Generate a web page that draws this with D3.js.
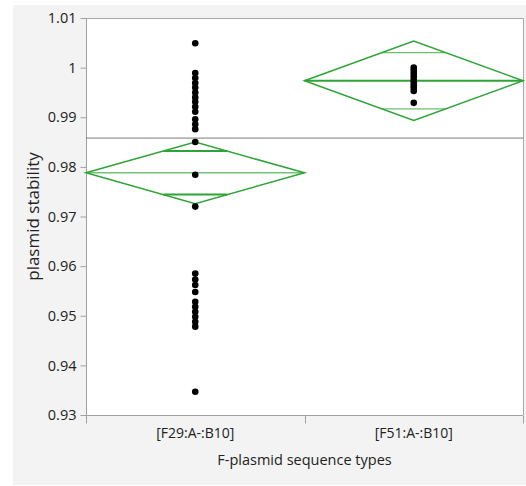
<!DOCTYPE html>
<html>
<head>
<meta charset="utf-8">
<script src="https://cdn.jsdelivr.net/npm/d3@7"></script>
<style>
  html, body { margin: 0; padding: 0; background: #ffffff; }
  svg { display: block; }
  text { font-family: "Open Sans", "Noto Sans", sans-serif; fill: #222; }
</style>
</head>
<body>
<svg id="chart" width="526" height="486"></svg>
<script>
// Sequence types on the x axis
const categories = ["[F29:A-:B10]", "[F51:A-:B10]"];

// Plasmid stability per isolate, F29:A-:B10
const f29Values = [
  1.0049,
  0.9989, 0.9979, 0.9969, 0.9960, 0.9950, 0.9940, 0.9931, 0.9921, 0.9911,
  0.9896, 0.9886, 0.9876,
  0.9850, 0.9784, 0.9720,
  0.9585, 0.9573, 0.9562, 0.9548, 0.9528, 0.9518, 0.9508, 0.9498, 0.9488, 0.9478,
  0.9347
];

// Plasmid stability per isolate, F51:A-:B10
const f51Values = [
  1.0000, 0.9994, 0.9988, 0.9982, 0.9976, 0.9970, 0.9964, 0.9959, 0.9953, 0.9929
];

// Group means and 95% confidence half-widths (mean diamonds)
const groupMeans = [0.9788, 0.99736];
const groupCIHalf = [0.0062, 0.0080];

// Overall mean reference line
const grandMean = 0.9858;

// Y axis ticks
const yTickValues = [0.93, 0.94, 0.95, 0.96, 0.97, 0.98, 0.99, 1.00, 1.01];
const yTickLabels = ["0.93", "0.94", "0.95", "0.96", "0.97", "0.98", "0.99", "1", "1.01"];

const axisTitleX = "F-plasmid sequence types";
const axisTitleY = "plasmid stability";

const groups = [f29Values, f51Values];

const svg = d3.select("#chart");
const plot = { left: 86, right: 523, top: 18, bottom: 415 };

// Panel background
svg.append("rect")
  .attr("x", 13).attr("y", 5)
  .attr("width", 513).attr("height", 480)
  .attr("fill", "#f3f3f3");

svg.append("rect")
  .attr("x", plot.left).attr("y", plot.top)
  .attr("width", plot.right - plot.left).attr("height", plot.bottom - plot.top)
  .attr("fill", "#ffffff");

const y = d3.scaleLinear().domain([0.93, 1.01]).range([plot.bottom, plot.top]);
const x = d3.scaleBand().domain(categories).range([plot.left, plot.right]).padding(0);

// Frame top and right
svg.append("path")
  .attr("d", `M${plot.left},${plot.top + 0.5}H${plot.right + 0.5}V${plot.bottom}`)
  .attr("fill", "none").attr("stroke", "#a8a8a8").attr("stroke-width", 1);

// Y axis
const yAxis = d3.axisLeft(y)
  .tickValues(yTickValues)
  .tickFormat((d, i) => yTickLabels[i])
  .tickSizeInner(6).tickSizeOuter(0).tickPadding(4);

const gy = svg.append("g")
  .attr("transform", `translate(${plot.left + 0.5},0)`)
  .call(yAxis);
gy.select(".domain").attr("stroke", "#a0a0a0")
  .attr("d", `M0,${plot.top}V${plot.bottom + 8}`);
gy.selectAll(".tick line").attr("stroke", "#a0a0a0");
gy.selectAll(".tick text")
  .style("font-family", "'Open Sans', sans-serif")
  .style("font-size", "14.5px").attr("fill", "#222");

// X axis: ticks at the category boundaries, labels at band centres
const gx = svg.append("g").attr("transform", `translate(0,${plot.bottom + 0.5})`);
gx.append("line")
  .attr("x1", plot.left).attr("x2", plot.right)
  .attr("stroke", "#a0a0a0");
const boundaries = categories.map(c => x(c)).concat([x(categories[categories.length - 1]) + x.bandwidth()]);
gx.selectAll("line.bound").data(boundaries).join("line")
  .attr("class", "bound")
  .attr("x1", d => Math.round(d) + 0.5).attr("x2", d => Math.round(d) + 0.5)
  .attr("y1", 0).attr("y2", 8)
  .attr("stroke", "#a0a0a0");
gx.selectAll("text").data(categories).join("text")
  .attr("x", d => x(d) + x.bandwidth() / 2)
  .attr("y", 22)
  .attr("text-anchor", "middle")
  .style("font-size", "14px")
  .text(d => d);

// Axis titles
svg.append("text")
  .attr("x", (plot.left + plot.right) / 2)
  .attr("y", 465)
  .attr("text-anchor", "middle")
  .style("font-size", "14.5px")
  .text(axisTitleX);

svg.append("text")
  .attr("transform", `translate(39,${(plot.top + plot.bottom) / 2}) rotate(-90)`)
  .attr("text-anchor", "middle")
  .style("font-size", "17px")
  .text(axisTitleY);

// Grand mean reference line
svg.append("line")
  .attr("x1", plot.left).attr("x2", plot.right)
  .attr("y1", y(grandMean)).attr("y2", y(grandMean))
  .attr("stroke", "#7a7a7a").attr("stroke-width", 1);

// Mean diamonds with overlap marks
const green = "#2ea436";
const meanWidths = [1, 2];
const markWidths = [2, 1.2];
categories.forEach((cat, i) => {
  const x0 = x(cat), x1 = x0 + x.bandwidth(), xm = x0 + x.bandwidth() / 2;
  const m = groupMeans[i], h = groupCIHalf[i];
  const g = svg.append("g");
  g.append("path")
    .attr("d", `M${x0},${y(m)}L${xm},${y(m + h)}L${x1},${y(m)}L${xm},${y(m - h)}Z`)
    .attr("fill", "none").attr("stroke", green).attr("stroke-width", 1.5);
  g.append("line")
    .attr("x1", x0).attr("x2", x1)
    .attr("y1", y(m)).attr("y2", y(m))
    .attr("stroke", green).attr("stroke-width", meanWidths[i]);
  const off = h / Math.SQRT2;
  const halfW = (1 - off / h) * x.bandwidth() / 2;
  [m + off, m - off].forEach(v => {
    g.append("line")
      .attr("x1", xm - halfW).attr("x2", xm + halfW)
      .attr("y1", y(v)).attr("y2", y(v))
      .attr("stroke", green).attr("stroke-width", markWidths[i])
      .attr("stroke-opacity", i === 1 ? 0.7 : 1);
  });
});

// Individual isolates
categories.forEach((cat, i) => {
  svg.append("g").selectAll("circle").data(groups[i]).join("circle")
    .attr("cx", x(cat) + x.bandwidth() / 2)
    .attr("cy", d => y(d))
    .attr("r", 3.3)
    .attr("fill", "#000");
});
</script>
</body>
</html>
